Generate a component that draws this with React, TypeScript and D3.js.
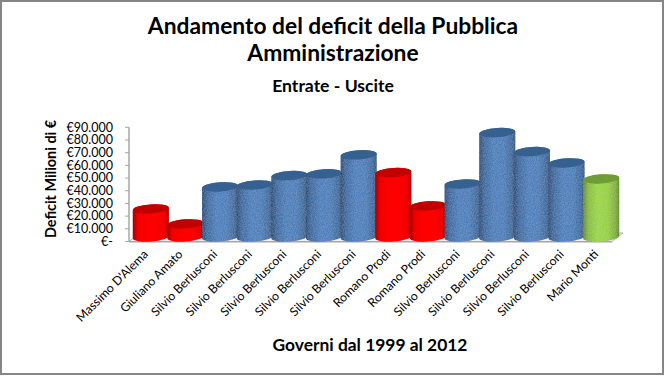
import React from "react";
import * as d3 from "d3";

const titleLines = ["Andamento del deficit della Pubblica", "Amministrazione"];
const subtitle = "Entrate - Uscite";
const yTitle = "Deficit Milioni di €";
const xTitle = "Governi dal 1999 al 2012";
const categories = ["Massimo D'Alema", "Giuliano Amato", "Silvio Berlusconi", "Silvio Berlusconi", "Silvio Berlusconi", "Silvio Berlusconi", "Silvio Berlusconi", "Romano Prodi", "Romano Prodi", "Silvio Berlusconi", "Silvio Berlusconi", "Silvio Berlusconi", "Silvio Berlusconi", "Mario Monti"];
const values = [21300, 9500, 38700, 40200, 47600, 49000, 64000, 50000, 23700, 41000, 81500, 66500, 57600, 45000];
const coalition = ["red", "red", "blue", "blue", "blue", "blue", "blue", "red", "red", "blue", "blue", "blue", "blue", "green"];
const tickValues = [0, 10000, 20000, 30000, 40000, 50000, 60000, 70000, 80000, 90000];

const W = 665, H = 376;
const font = "Lato, 'Open Sans', sans-serif";
const axisY = d3.scaleLinear().domain([0, 90000]).range([241.5, 127.3]);
const barY = d3.scaleLinear().domain([0, 90000]).range([236, 121.8]);
const x = d3.scaleBand<number>().domain(d3.range(categories.length)).range([133.5, 618.5]).paddingInner(0).paddingOuter(0);
const fmt = (v: number) => (v === 0 ? "€-" : "€" + d3.format(",")(v).replace(/,/g, "."));

const palette: Record<string, { stops: string[]; top: string }> = {
  red: { stops: ["#a80000", "#f00000", "#ff0000", "#ff0000", "#ec0000", "#b00000"], top: "#c00000" },
  blue: { stops: ["#244a75", "#3a6aa0", "#4b80bc", "#4a7fba", "#3d6a9c", "#2f547c"], top: "#36608f" },
  green: { stops: ["#5f8a26", "#86bc3a", "#9bd644", "#96d040", "#7fae38", "#5f8a28"], top: "#6f9c36" },
};
const stopAt = [0, 0.14, 0.4, 0.68, 0.9, 1];

export default function App() {
  const bw = x.bandwidth();
  const rx = bw / 2 + 0.8;
  const ry = 4.6;
  const tilt = 4;
  const dx = rx * Math.cos((tilt * Math.PI) / 180);
  const dy = rx * Math.sin((tilt * Math.PI) / 180);
  return (
    <svg width={W} height={H} viewBox={`0 0 ${W} ${H}`} style={{ position: "fixed", left: 0, top: 0, background: "#fff", fontFamily: font }}>
      <defs>
        {Object.entries(palette).map(([k, p]) => (
          <linearGradient key={k} id={`g-${k}`} x1="0" x2="1" y1="0" y2="0">
            {p.stops.map((c, i) => <stop key={i} offset={stopAt[i]} stopColor={c} />)}
          </linearGradient>
        ))}
        <filter id="grain" x="0" y="0" width="100%" height="100%">
          <feTurbulence type="fractalNoise" baseFrequency="0.9" numOctaves={2} seed={3} result="n" />
          <feColorMatrix in="n" type="matrix" values="0 0 0 0 1  0 0 0 0 1  0 0 0 0 1  0.2 0 0 0 -0.06" result="w" />
          <feComposite in="w" in2="SourceAlpha" operator="in" result="g" />
          <feMerge><feMergeNode in="SourceGraphic" /><feMergeNode in="g" /></feMerge>
        </filter>
      </defs>
      <rect x={1} y={1} width={W - 3} height={H - 3} fill="#fff" stroke="#868686" strokeWidth={2} />

      <g textAnchor="middle" fontWeight={700} fill="#000">
        {titleLines.map((t, i) => <text key={i} x={333} y={34 + i * 27} fontSize={22.8}>{t}</text>)}
        <text x={333} y={92} fontSize={17.6}>{subtitle}</text>
        <text x={370} y={351} fontSize={17.4}>{xTitle}</text>
        <text transform="translate(56,179) rotate(-90)" fontSize={14.4}>{yTitle}</text>
      </g>

      <polygon points={`129,241.5 612,241.5 623,233 140,233`} fill="#f2f2f2" stroke="#b4b4b4" strokeWidth={1} />
      <line x1={129} x2={612} y1={241.7} y2={241.7} stroke="#a6a6a6" strokeWidth={1.6} />
      <line x1={129} x2={129} y1={axisY(90000)} y2={axisY(0)} stroke="#a6a6a6" strokeWidth={1.5} />
      {tickValues.map((v) => (
        <g key={v}>
          <line x1={125} x2={129} y1={axisY(v)} y2={axisY(v)} stroke="#a6a6a6" strokeWidth={1} />
          <text x={113} y={axisY(v) + 4.2} textAnchor="end" fontSize={12.5} fill="#000">{fmt(v)}</text>
        </g>
      ))}

      {values.map((v, i) => {
        const cx = (x(i) as number) + bw / 2;
        const top = barY(v);
        const bottom = barY(0) + 1;
        const p = palette[coalition[i]];
        const d = `M${cx - dx},${top + dy} L${cx - dx},${bottom + dy} A${rx},${ry} ${-tilt} 0 0 ${cx + dx},${bottom - dy} L${cx + dx},${top - dy} A${rx},${ry} ${-tilt} 0 0 ${cx - dx},${top + dy} Z`;
        return (
          <g key={i}>
            <path d={d} fill={`url(#g-${coalition[i]})`} filter={coalition[i] === "red" ? undefined : "url(#grain)"} />
            <ellipse cx={cx} cy={top} rx={rx - 0.2} ry={ry} fill={p.top} transform={`rotate(${-tilt} ${cx} ${top})`} />
          </g>
        );
      })}

      {categories.map((c, i) => {
        const cx = (x(i) as number) + bw / 2 - 2;
        return (
          <text key={i} transform={`translate(${cx},255) rotate(-45)`} textAnchor="end" fontSize={12.2} fill="#000">{c}</text>
        );
      })}
    </svg>
  );
}
